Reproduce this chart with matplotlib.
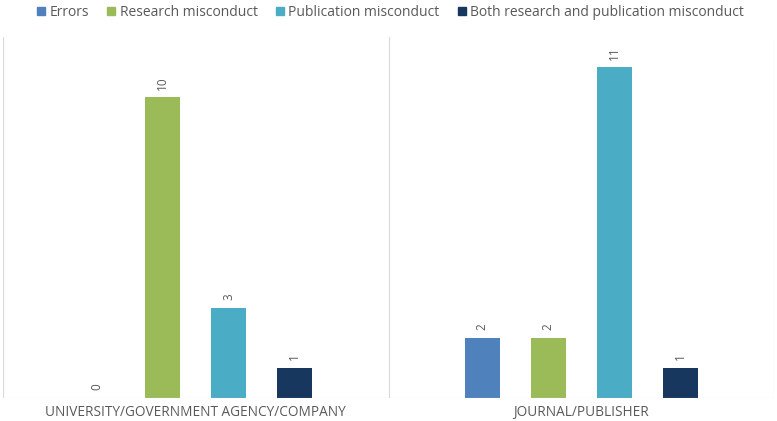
import numpy as np
import matplotlib
matplotlib.use("Agg")
import matplotlib.pyplot as plt

# Data
categories = ["UNIVERSITY/GOVERNMENT AGENCY/COMPANY", "JOURNAL/PUBLISHER"]
series_names = ["Errors", "Research misconduct", "Publication misconduct",
                "Both research and publication misconduct"]
errors = [0, 2]
research = [10, 2]
publication = [3, 11]
both = [1, 1]

series_values = [errors, research, publication, both]
colors = ["#4f81bd", "#9bbb59", "#4bacc6", "#17375e"]
label_color = "#595959"
grid_color = "#d9d9d9"

plt.rcParams['font.family'] = ['Open Sans', 'DejaVu Sans']

fig = plt.figure(figsize=(7.77, 4.21), dpi=100)
ax = fig.add_axes([3/777, 1 - 398/421, 771/777, 361/421])

x = np.arange(len(categories))
spacing = 0.171
width = 0.091
offsets = (np.arange(len(series_names)) - 1.5)*spacing

for i, (name, vals, col) in enumerate(zip(series_names, series_values, colors)):
    bars = ax.bar(x + offsets[i], vals, width=width, color=col, label=name, zorder=3)
    for rect, v in zip(bars, vals):
        ax.text(rect.get_x() + rect.get_width()/2, rect.get_height() + 0.25, str(v),
                rotation=90, ha='center', va='bottom', fontsize=8.5, color=label_color)

ax.set_xlim(-0.5, 1.5)
ax.set_ylim(0, 12)

# Category separators
for xv in [-0.5, 0.5, 1.5]:
    ax.axvline(xv, color=grid_color, lw=0.8, zorder=1)
ax.axhline(0, color=grid_color, lw=0.8, zorder=4)

for s in ax.spines.values():
    s.set_visible(False)
ax.set_yticks([])
ax.set_xticks(x)
ax.set_xticklabels(categories, fontsize=9.8, color=label_color)
ax.tick_params(axis='x', length=0, pad=5)

handles = [plt.Line2D([0], [0], marker='s', linestyle='', markersize=6,
                      markerfacecolor=c, markeredgecolor=c) for c in colors]
fig.legend(handles, series_names, loc='upper center', bbox_to_anchor=(0.5, 1.018),
           ncol=4, frameon=False, fontsize=10, handletextpad=0.0, columnspacing=1.0,
           handlelength=1.2, labelcolor=label_color)

fig.savefig("out.png", dpi=100, facecolor='white')
